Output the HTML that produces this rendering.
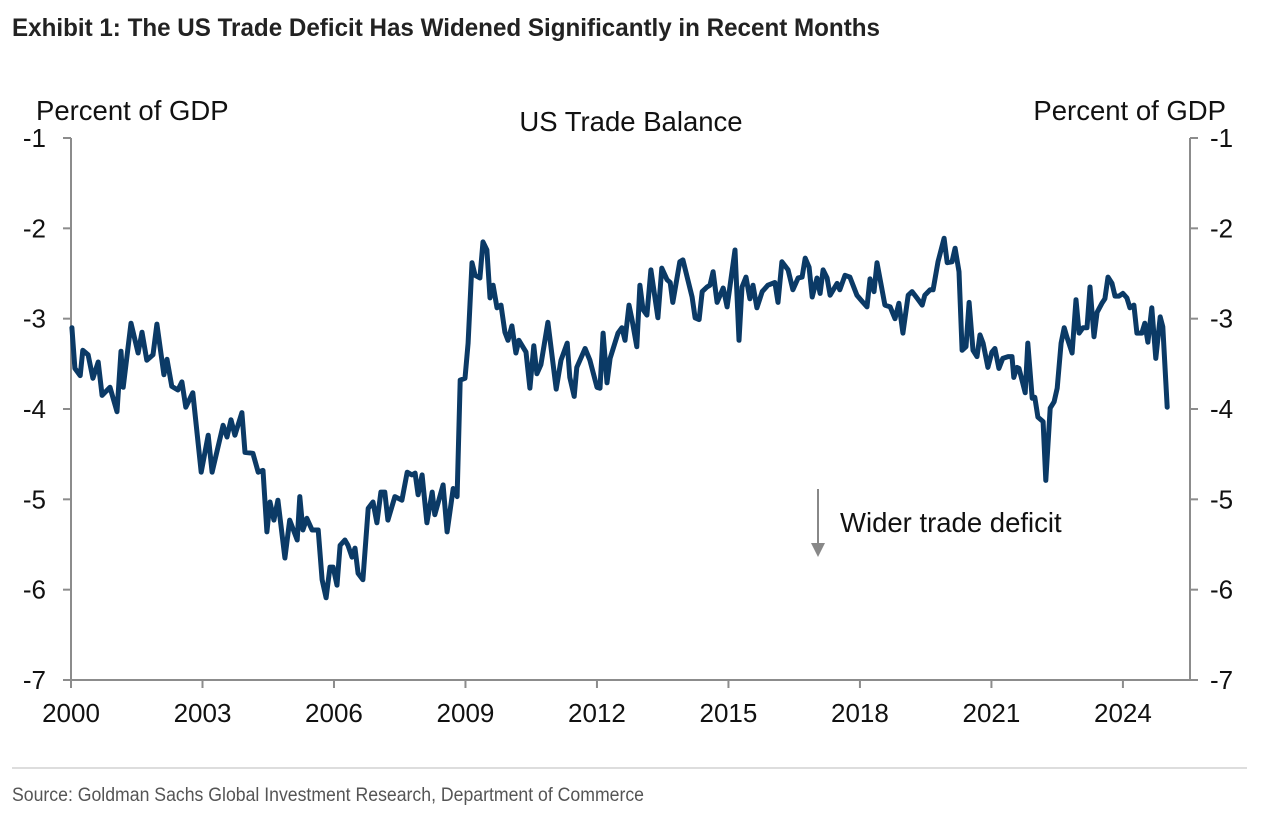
<!DOCTYPE html>
<html><head><meta charset="utf-8"><style>
body{margin:0;background:#fff;width:1280px;height:821px;overflow:hidden}
svg text{font-family:"Liberation Sans",sans-serif}
</style></head><body>
<svg width="1280" height="821">
<text x="12" y="36" font-size="25" font-weight="bold" textLength="868" lengthAdjust="spacingAndGlyphs" fill="#222">Exhibit 1: The US Trade Deficit Has Widened Significantly in Recent Months</text>
<text x="36" y="120" font-size="27.5" fill="#111">Percent of GDP</text>
<text x="1226" y="120" font-size="27.5" fill="#111" text-anchor="end">Percent of GDP</text>
<text x="631" y="131" font-size="27.5" fill="#111" text-anchor="middle">US Trade Balance</text>
<g id="axes"></g>
<g id="series"></g>
<line x1="818" y1="489" x2="818" y2="545" stroke="#888" stroke-width="2"/>
<polygon points="811,543 825,543 818,557" fill="#888"/>
<text x="840" y="532" font-size="27.5" fill="#111">Wider trade deficit</text>
<line x1="12" y1="768" x2="1247" y2="768" stroke="#bbb" stroke-width="1"/>
<text x="12" y="801" font-size="19" fill="#555" textLength="632" lengthAdjust="spacingAndGlyphs">Source: Goldman Sachs Global Investment Research, Department of Commerce</text>
</svg>
<script>
const yTicks=[-1,-2,-3,-4,-5,-6,-7];
const xTicks=[2000,2003,2006,2009,2012,2015,2018,2021,2024];
const dates=[2000.02,2000.09,2000.21,2000.27,2000.39,2000.5,2000.62,2000.71,2000.89,2001.05,2001.14,2001.19,2001.37,2001.53,2001.62,2001.73,2001.87,2001.96,2002.12,2002.19,2002.3,2002.44,2002.53,2002.62,2002.78,2002.97,2003.13,2003.22,2003.47,2003.56,2003.65,2003.74,2003.9,2003.97,2004.15,2004.27,2004.38,2004.47,2004.54,2004.63,2004.72,2004.88,2004.99,2005.16,2005.22,2005.29,2005.38,2005.5,2005.64,2005.73,2005.82,2005.91,2005.98,2006.07,2006.14,2006.25,2006.32,2006.41,2006.48,2006.55,2006.66,2006.78,2006.89,2006.98,2007.07,2007.16,2007.23,2007.39,2007.55,2007.67,2007.78,2007.85,2007.92,2008.01,2008.12,2008.24,2008.3,2008.49,2008.58,2008.72,2008.81,2008.88,2008.99,2009.06,2009.15,2009.22,2009.33,2009.4,2009.49,2009.56,2009.63,2009.72,2009.81,2009.9,2009.97,2010.06,2010.15,2010.22,2010.38,2010.47,2010.56,2010.63,2010.72,2010.88,2011.07,2011.18,2011.32,2011.38,2011.48,2011.54,2011.73,2011.84,2012.0,2012.07,2012.14,2012.23,2012.3,2012.48,2012.57,2012.64,2012.73,2012.8,2012.91,2012.98,2013.05,2013.14,2013.23,2013.39,2013.48,2013.6,2013.67,2013.73,2013.89,2013.96,2014.17,2014.24,2014.33,2014.4,2014.51,2014.58,2014.65,2014.74,2014.88,2014.97,2015.15,2015.24,2015.31,2015.4,2015.49,2015.56,2015.65,2015.77,2015.9,2016.06,2016.13,2016.22,2016.36,2016.47,2016.59,2016.68,2016.75,2016.84,2016.91,2017.02,2017.09,2017.16,2017.25,2017.32,2017.48,2017.54,2017.66,2017.77,2017.93,2018.07,2018.16,2018.23,2018.32,2018.39,2018.57,2018.69,2018.8,2018.89,2018.98,2019.1,2019.19,2019.3,2019.42,2019.48,2019.6,2019.67,2019.78,2019.92,2019.99,2020.1,2020.17,2020.26,2020.33,2020.42,2020.49,2020.58,2020.67,2020.74,2020.81,2020.92,2021.01,2021.08,2021.17,2021.26,2021.38,2021.47,2021.51,2021.58,2021.63,2021.77,2021.83,2021.93,2021.99,2022.06,2022.18,2022.24,2022.34,2022.43,2022.5,2022.59,2022.66,2022.72,2022.84,2022.93,2023.0,2023.09,2023.18,2023.25,2023.34,2023.41,2023.52,2023.59,2023.66,2023.75,2023.82,2023.91,2024.0,2024.09,2024.16,2024.25,2024.32,2024.43,2024.5,2024.57,2024.66,2024.75,2024.85,2024.91,2025.01];
const balance=[-3.10,-3.55,-3.63,-3.35,-3.40,-3.66,-3.48,-3.85,-3.76,-4.03,-3.36,-3.76,-3.05,-3.38,-3.15,-3.46,-3.40,-3.06,-3.62,-3.45,-3.75,-3.79,-3.70,-3.98,-3.82,-4.70,-4.29,-4.70,-4.18,-4.31,-4.12,-4.29,-4.04,-4.48,-4.49,-4.70,-4.68,-5.36,-5.03,-5.23,-5.01,-5.65,-5.23,-5.45,-4.97,-5.34,-5.21,-5.34,-5.34,-5.89,-6.09,-5.75,-5.75,-5.95,-5.51,-5.45,-5.51,-5.64,-5.54,-5.82,-5.89,-5.10,-5.03,-5.26,-4.92,-4.92,-5.23,-4.97,-5.01,-4.70,-4.73,-4.71,-4.95,-4.73,-5.26,-4.92,-5.17,-4.84,-5.36,-4.88,-4.97,-3.68,-3.66,-3.27,-2.38,-2.52,-2.55,-2.15,-2.24,-2.77,-2.63,-2.88,-2.85,-3.15,-3.24,-3.08,-3.38,-3.24,-3.37,-3.77,-3.30,-3.61,-3.51,-3.04,-3.78,-3.46,-3.27,-3.65,-3.86,-3.54,-3.33,-3.46,-3.76,-3.77,-3.16,-3.71,-3.44,-3.16,-3.10,-3.24,-2.85,-3.01,-3.31,-2.63,-2.90,-2.96,-2.46,-2.99,-2.44,-2.57,-2.60,-2.82,-2.37,-2.35,-2.76,-2.99,-3.01,-2.70,-2.65,-2.63,-2.48,-2.82,-2.66,-2.87,-2.24,-3.24,-2.65,-2.54,-2.78,-2.63,-2.88,-2.70,-2.63,-2.60,-2.82,-2.37,-2.46,-2.68,-2.55,-2.54,-2.33,-2.43,-2.76,-2.55,-2.72,-2.46,-2.55,-2.74,-2.61,-2.68,-2.52,-2.54,-2.74,-2.82,-2.87,-2.56,-2.70,-2.38,-2.85,-2.87,-3.00,-2.83,-3.16,-2.74,-2.70,-2.77,-2.85,-2.74,-2.68,-2.68,-2.37,-2.11,-2.38,-2.37,-2.22,-2.48,-3.35,-3.31,-2.82,-3.35,-3.42,-3.18,-3.27,-3.54,-3.37,-3.33,-3.55,-3.44,-3.42,-3.42,-3.65,-3.54,-3.55,-3.82,-3.27,-3.88,-3.87,-4.09,-4.14,-4.79,-3.99,-3.92,-3.77,-3.27,-3.10,-3.20,-3.38,-2.79,-3.16,-3.10,-3.10,-2.65,-3.20,-2.93,-2.83,-2.78,-2.54,-2.61,-2.75,-2.75,-2.72,-2.77,-2.88,-2.85,-3.16,-3.16,-3.05,-3.26,-2.88,-3.44,-2.98,-3.09,-3.98];
const NS='http://www.w3.org/2000/svg';
const X0=71,X1=1190,Y0=138,Y1=680;
function xs(yr){return X0+(yr-2000)*43.83;}
function ys(v){return Y0+(-1-v)*(Y1-Y0)/6;}
function mk(tag,attrs,parent){const e=document.createElementNS(NS,tag);for(const k in attrs)e.setAttribute(k,attrs[k]);parent.appendChild(e);return e;}
const ax=document.getElementById('axes');
const G='#8c8c8c';
let e;
e=mk('line',{x1:X0,y1:Y0,x2:X0,y2:Y1,stroke:G,'stroke-width':2},ax);


e=mk('line',{x1:X1,y1:Y0,x2:X1,y2:Y1,stroke:G,'stroke-width':2},ax);


e=mk('line',{x1:X0,y1:Y1,x2:X1,y2:Y1,stroke:G,'stroke-width':2},ax);


yTicks.forEach(v=>{const y=ys(v);
 mk('line',{x1:X0-8,y1:y,x2:X0,y2:y,stroke:G,'stroke-width':2},ax);
 mk('line',{x1:X1,y1:y,x2:X1+8,y2:y,stroke:G,'stroke-width':2},ax);
 e=mk('text',{x:46,y:y+9,'font-size':26,'text-anchor':'end',fill:'#111'},ax);e.textContent=v;
 
 
 e=mk('text',{x:1210,y:y+9,'font-size':26,fill:'#111'},ax);e.textContent=v;
 
 
});
xTicks.forEach(t=>{const x=xs(t);
 mk('line',{x1:x,y1:Y1,x2:x,y2:Y1+8,stroke:G,'stroke-width':2},ax);
 e=mk('text',{x:x,y:722,'font-size':26,'text-anchor':'middle',fill:'#111'},ax);e.textContent=t;
 
 
});
const d=dates.map((t,i)=>(i?'L':'M')+xs(t).toFixed(1)+','+ys(balance[i]).toFixed(1)).join(' ');
e=mk('path',{d:d,fill:'none',stroke:'#0b3a66','stroke-width':5,'stroke-linejoin':'round','stroke-linecap':'round'},document.getElementById('series'));


</script>
</body></html>
